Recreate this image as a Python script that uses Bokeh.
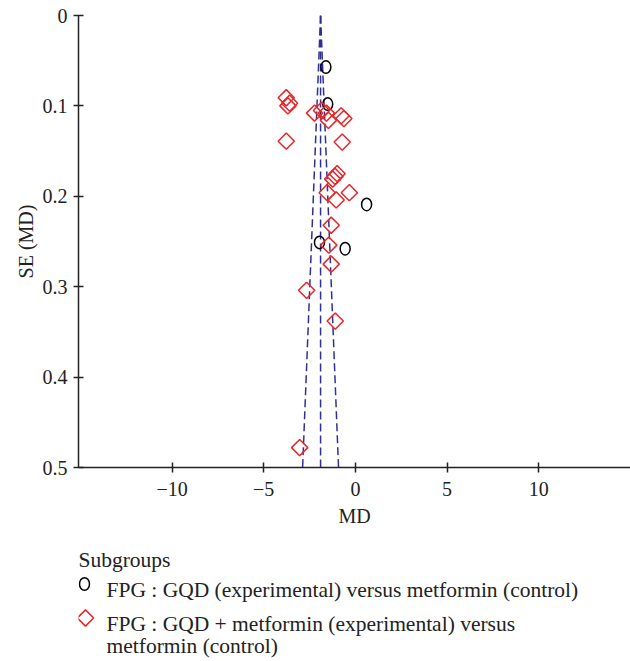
import numpy as np
from bokeh.plotting import figure
from bokeh.layouts import column
from bokeh.models import Range1d, FixedTicker
from bokeh.core.properties import value
from bokeh.embed import file_html
from bokeh.resources import INLINE

# ---- data ----
gqd_md = [-1.61, -1.51, 0.61, -1.96, -0.56]
gqd_se = [0.057, 0.098, 0.209, 0.251, 0.258]

combo_md = [-3.77, -3.59, -3.68, -2.23, -1.85, -1.58, -1.47, -0.78, -0.63,
            -3.77, -0.72, -1.00, -1.11, -1.24, -1.54, -0.33, -1.05, -1.32,
            -1.45, -1.32, -2.66, -1.10, -3.04]
combo_se = [0.091, 0.097, 0.100, 0.108, 0.105, 0.108, 0.116, 0.111, 0.114,
            0.139, 0.140, 0.175, 0.178, 0.181, 0.196, 0.196, 0.204, 0.232,
            0.254, 0.275, 0.304, 0.338, 0.478]

pooled_md = -1.9
se_max = 0.5
z_value = 1.96

x_ticks = [-10, -5, 0, 5, 10]
x_tick_labels = ["\u221210", "\u22125", "0", "5", "10"]
y_ticks = [0, 0.1, 0.2, 0.3, 0.4, 0.5]
y_tick_labels = ["0", "0.1", "0.2", "0.3", "0.4", "0.5"]

legend_title = "Subgroups"
legend_gqd = "FPG : GQD (experimental) versus metformin (control)"
legend_combo_1 = "FPG : GQD + metformin (experimental) versus"
legend_combo_2 = "metformin (control)"

FONT = "Liberation Serif"
RED = "#e8262a"
BLUE = "#2e3192"
TXT = "#222222"

W = 630
TOP_H = 538
LEG_H = 123
LEFT = 78
DY = -8  # legend vertical calibration

# ---- main funnel plot ----
p = figure(width=W, height=TOP_H,
           x_range=Range1d(-15.1, 15.0), y_range=Range1d(0.5, 0),
           output_backend="svg", toolbar_location=None,
           min_border_left=LEFT, min_border_right=0,
           min_border_top=15, min_border_bottom=71)
p.outline_line_color = None
p.grid.visible = False

# funnel lines
lo = pooled_md - z_value * se_max
hi = pooled_md + z_value * se_max
for end in (pooled_md, lo, hi):
    p.line([pooled_md, end], [0, se_max], line_color=BLUE, line_width=1.5, line_dash="8 4")

# study markers
p.ellipse(gqd_md, gqd_se, width=10, height=12.5, width_units="screen",
          height_units="screen", fill_color=None, line_color="black", line_width=1.5)
p.scatter(combo_md, combo_se, marker="square", size=11.5, angle=np.pi / 4,
          fill_color=None, line_color=RED, line_width=1.5)

for ax in (p.xaxis, p.yaxis):
    ax.axis_line_color = TXT
    ax.axis_line_width = 1.5
    ax.major_tick_line_color = TXT
    ax.major_tick_line_width = 1.5
    ax.major_tick_in = 5
    ax.major_tick_out = 5
    ax.minor_tick_line_color = None
    ax.major_label_text_font = FONT
    ax.major_label_text_font_size = "20px"
    ax.major_label_text_color = TXT
    ax.axis_label_text_font = FONT
    ax.axis_label_text_font_size = "20px"
    ax.axis_label_text_font_style = "normal"
    ax.axis_label_text_color = TXT

p.xaxis.ticker = FixedTicker(ticks=x_ticks)
p.xaxis.major_label_overrides = dict(zip(x_ticks, x_tick_labels))
p.xaxis.axis_label = "MD"
p.xaxis.major_label_standoff = 9
p.xaxis.axis_label_standoff = 6

p.yaxis.ticker = FixedTicker(ticks=y_ticks)
p.yaxis.major_label_overrides = dict(zip(y_ticks, y_tick_labels))
p.yaxis.axis_label = "SE (MD)"
p.yaxis.major_label_standoff = 6
p.yaxis.axis_label_standoff = 3

# ---- legend panel (coordinates = page pixels) ----
leg = figure(width=W, height=LEG_H,
             x_range=Range1d(LEFT, W), y_range=Range1d(TOP_H + LEG_H, TOP_H),
             output_backend="svg", toolbar_location=None,
             min_border_left=LEFT, min_border_right=0,
             min_border_top=0, min_border_bottom=0)
leg.axis.visible = False
leg.grid.visible = False
leg.outline_line_color = None

fs = "21.5px"
leg.text([78], [567 + DY], text=[legend_title], text_font=value(FONT), text_font_size=fs,
         text_color=TXT, text_baseline="alphabetic")
leg.ellipse([84], [591.5 + DY], width=10, height=12.5, width_units="screen", height_units="screen",
            fill_color=None, line_color="black", line_width=1.5)
leg.text([106], [597 + DY], text=[legend_gqd], text_font=value(FONT), text_font_size=fs,
         text_color=TXT, text_baseline="alphabetic")
leg.scatter([85], [625.5 + DY], marker="square", size=11.5, angle=np.pi / 4,
            fill_color=None, line_color=RED, line_width=1.5)
leg.text([106, 106], [631 + DY, 653 + DY], text=[legend_combo_1, legend_combo_2],
         text_font=value(FONT), text_font_size=fs, text_color=TXT, text_baseline="alphabetic")

layout = column(p, leg, spacing=0)
open("out.html", "w").write(file_html(layout, INLINE))
